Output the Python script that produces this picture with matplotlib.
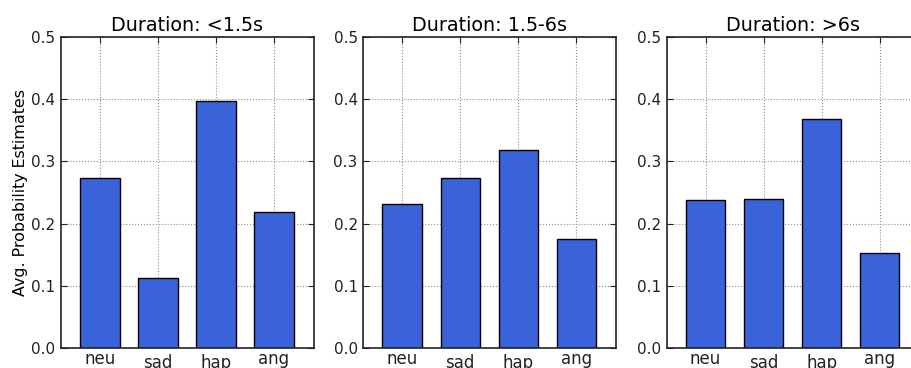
import matplotlib
matplotlib.use("Agg")
import matplotlib.pyplot as plt
from matplotlib.transforms import ScaledTranslation
import numpy as np

emotions = ["neu", "sad", "hap", "ang"]
titles = ["Duration: <1.5s", "Duration: 1.5-6s", "Duration: >6s"]
short_vals = [0.273, 0.112, 0.397, 0.218]
mid_vals = [0.231, 0.273, 0.318, 0.176]
long_vals = [0.238, 0.240, 0.368, 0.152]
yticks = [0.0, 0.1, 0.2, 0.3, 0.4, 0.5]

fig = plt.figure(figsize=(9.11, 3.68), dpi=100)
lefts = [61, 363.3, 666.7]
width_px = 252.5
bottom, top = 348, 37

for left, title, vals in zip(lefts, titles, [short_vals, mid_vals, long_vals]):
    ax = fig.add_axes([left / 911, 1 - bottom / 368, width_px / 911, (bottom - top) / 368])
    x = np.arange(len(emotions))
    ax.bar(x, vals, width=0.68, color="#3b63d9", edgecolor="black", linewidth=1, zorder=2)
    ax.set_xlim(-0.67, 3.68)
    ax.set_ylim(0, 0.5)
    ax.set_xticks(x)
    ax.set_xticklabels(emotions, fontsize=12)
    ax.set_yticks(yticks)
    ax.set_yticklabels(["%.1f" % v for v in yticks], fontsize=11)
    ax.tick_params(direction="in", top=True, right=True, length=4, colors="#222222")
    ax.tick_params(axis="x", pad=1.5)
    ax.tick_params(axis="y", pad=4)
    # old-style label layout: words with tall letters sit a bit lower
    for tick, name in zip(ax.xaxis.get_major_ticks(), emotions):
        if any(c in "bdfhklt" for c in name):
            lab = tick.label1
            lab.set_transform(lab.get_transform() + ScaledTranslation(0, -3.5 / 100, fig.dpi_scale_trans))
    ax.grid(True, linestyle=":", color="#909090", linewidth=0.8, zorder=0)
    ax.set_axisbelow(True)
    for s in ax.spines.values():
        s.set_linewidth(1.2)
        s.set_color("#222222")
    ax.set_title(title, fontsize=13.8, pad=4)
    if left == lefts[0]:
        ax.set_ylabel("Avg. Probability Estimates", fontsize=11.4, labelpad=2)

fig.savefig("out.png", dpi=100)
